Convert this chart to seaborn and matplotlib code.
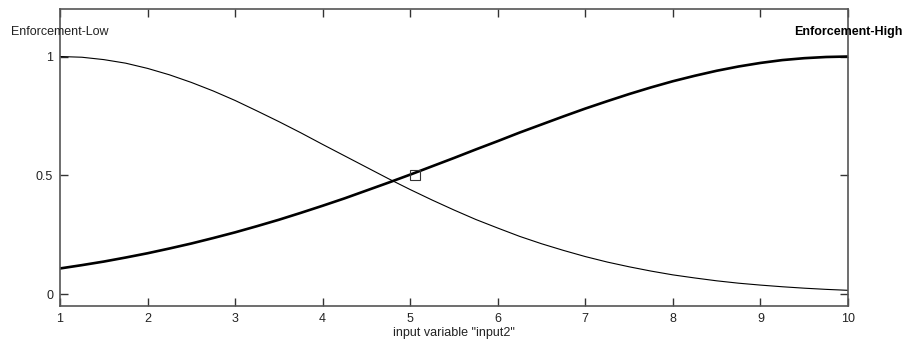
import matplotlib
matplotlib.use("Agg")
import matplotlib.pyplot as plt
import seaborn as sns
import pandas as pd

# Membership values
x_vals = [1.0, 1.25, 1.5, 1.75, 2.0, 2.25, 2.5, 2.75, 3.0, 3.25, 3.5, 3.75,
          4.0, 4.25, 4.5, 4.75, 5.0, 5.25, 5.5, 5.75, 6.0, 6.25, 6.5, 6.75,
          7.0, 7.25, 7.5, 7.75, 8.0, 8.25, 8.5, 8.75, 9.0, 9.25, 9.5, 9.75, 10.0]
low_vals = [1.000, 0.997, 0.987, 0.972, 0.950, 0.923, 0.891, 0.855, 0.815, 0.771,
            0.726, 0.679, 0.630, 0.582, 0.534, 0.486, 0.440, 0.396, 0.354, 0.314,
            0.278, 0.243, 0.212, 0.184, 0.158, 0.135, 0.115, 0.097, 0.081, 0.068,
            0.056, 0.046, 0.038, 0.031, 0.025, 0.020, 0.016]
high_vals = [0.108, 0.122, 0.137, 0.154, 0.172, 0.192, 0.213, 0.236, 0.260, 0.286,
             0.313, 0.342, 0.372, 0.403, 0.436, 0.469, 0.503, 0.538, 0.573, 0.609,
             0.644, 0.680, 0.714, 0.748, 0.781, 0.812, 0.842, 0.870, 0.896, 0.919,
             0.940, 0.958, 0.973, 0.985, 0.993, 0.998, 1.000]
mf_names = ["Enforcement-Low", "Enforcement-High"]
mf_peaks = [1.0, 10.0]
x_ticks = [1, 2, 3, 4, 5, 6, 7, 8, 9, 10]
y_ticks = [0, 0.5, 1]
y_tick_labels = ["0", "0.5", "1"]
marker_x = [5.05]
marker_y = [0.5]
x_label = 'input variable "input2"'

sns.set_theme(style="white")
plt.rcParams['font.family'] = ['Liberation Sans', 'DejaVu Sans']

fig = plt.figure(figsize=(9.05, 3.48), dpi=100)
ax = fig.add_axes([60/905, 1-306/348, (848-60)/905, (306-9)/348])

df_low = pd.DataFrame({"x": x_vals, "y": low_vals})
df_high = pd.DataFrame({"x": x_vals, "y": high_vals})
sns.lineplot(data=df_low, x="x", y="y", ax=ax, color="black", linewidth=0.8)
sns.lineplot(data=df_high, x="x", y="y", ax=ax, color="black", linewidth=1.9)
ax.plot(marker_x, marker_y, marker="s", markersize=7, markerfacecolor="none",
        markeredgecolor="#333333", markeredgewidth=0.8, linestyle="none")

ax.set_xlim(1, 10)
ax.set_ylim(-0.05, 1.2)
ax.set_xticks(x_ticks)
ax.set_xticklabels([str(t) for t in x_ticks])
ax.set_yticks(y_ticks)
ax.set_yticklabels(y_tick_labels)
ax.tick_params(direction="in", length=6, width=1, color="#333333",
               labelsize=9, labelcolor="#222222", top=True, right=True,
               bottom=True, left=True, pad=5)
for s in ax.spines.values():
    s.set_color("#555555")
    s.set_linewidth(1.2)
ax.set_xlabel("")
ax.set_ylabel("")
ax.text(0.5, -0.09, x_label, transform=ax.transAxes, ha="center", va="center",
        fontsize=9, color="#222222")

ax.text(mf_peaks[0], 1.105, mf_names[0], ha="center", va="center",
        fontsize=9, color="#222222", clip_on=False)
ax.text(mf_peaks[1], 1.105, mf_names[1], ha="center", va="center",
        fontsize=9, fontweight="bold", color="black", clip_on=False)

fig.savefig("out.png", dpi=100, facecolor="white")
